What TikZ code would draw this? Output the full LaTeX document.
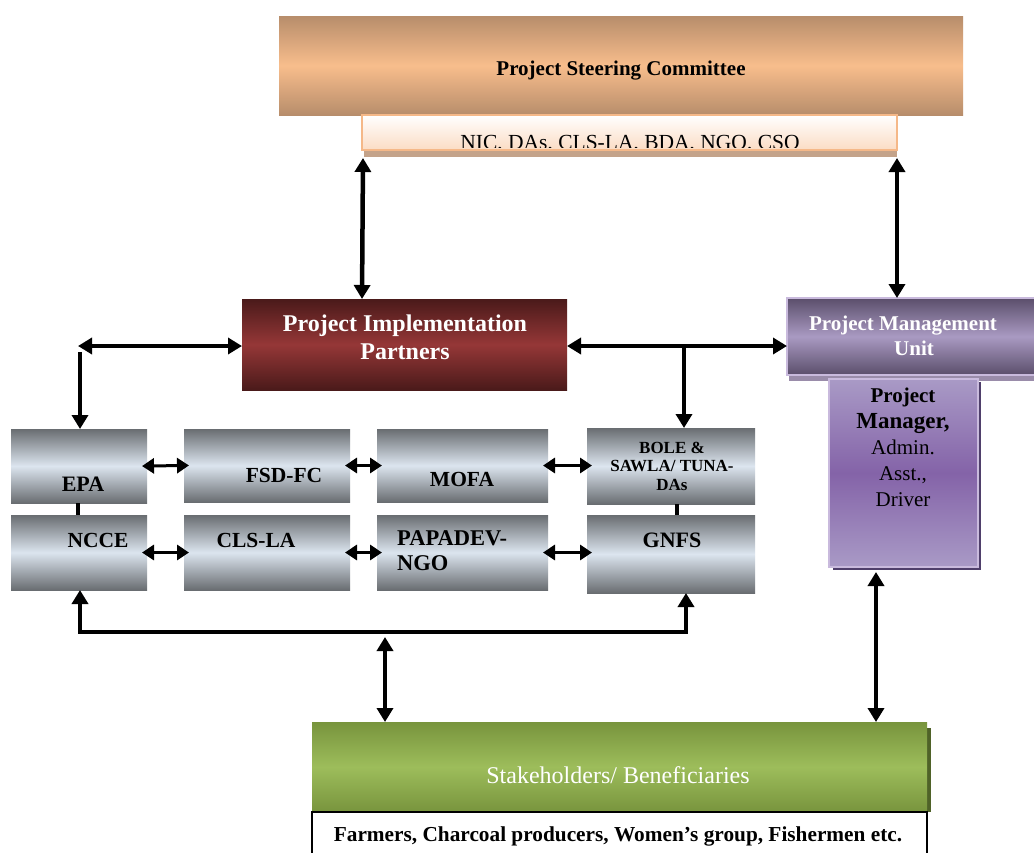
\documentclass[tikz,border=0pt]{standalone}
\usepackage{fontspec}
\setmainfont{Liberation Serif}
\usetikzlibrary{arrows.meta,calc}
\definecolor{gsteel}{HTML}{696D71}
\definecolor{lsteel}{HTML}{DCE5EF}
\definecolor{pscdark}{HTML}{B78D6B}
\definecolor{psclight}{HTML}{F8BD8C}
\definecolor{nicbot}{HTML}{FBDCC4}
\definecolor{nicline}{HTML}{F5B888}
\definecolor{nicstrip}{HTML}{C4A38A}
\definecolor{pipdark}{HTML}{4A1A1A}
\definecolor{piplight}{HTML}{953737}
\definecolor{pmudark}{HTML}{5B4E6B}
\definecolor{pmulight}{HTML}{A99AC2}
\definecolor{pmuline}{HTML}{C9BADD}
\definecolor{pmstrip}{HTML}{9A8CAA}
\definecolor{pmmid}{HTML}{8463A8}
\definecolor{pmlight}{HTML}{A99AC6}
\definecolor{pmshadow}{HTML}{4F3F6B}
\definecolor{gdark}{HTML}{78943D}
\definecolor{glight}{HTML}{9DBD5B}
\definecolor{gshadow}{HTML}{4F6228}
\begin{document}
\begin{tikzpicture}[x=1pt,y=-1pt,
  box/.style={anchor=north west, inner sep=0pt, outer sep=0pt},
  steel/.style={box, top color=gsteel, bottom color=gsteel, middle color=lsteel},
  lbl/.style={inner sep=0pt, font=\fontsize{21.5}{25}\selectfont\bfseries},
  big/.style={line width=4.5pt, {Triangle[length=14pt,width=16pt]}-{Triangle[length=14pt,width=16pt]}},
  bigend/.style={line width=4.5pt, -{Triangle[length=14pt,width=16pt]}},
  small/.style={line width=3pt, shorten <=-5pt, shorten >=-5pt, {Triangle[length=12pt,width=15pt]}-{Triangle[length=12pt,width=15pt]}},
  link/.style={line width=4.5pt}
]
\clip (0,0) rectangle (1034,852);
\fill[white] (0,0) rectangle (1034,852);

% Steering committee
\node[box, minimum width=684pt, minimum height=99pt, top color=pscdark, bottom color=pscdark, middle color=psclight] (psc) at (279,16) {};
\node[lbl, font=\fontsize{21}{25}\selectfont\bfseries] (psct) at (621,71) {Project Steering Committee};

% NIC strip
\fill[nicstrip] (364,150) rectangle (897,157);
\node[box, minimum width=535pt, minimum height=35pt, top color=white, bottom color=nicbot, draw=nicline, line width=2pt] (nic) at (362,115) {};
\begin{scope}
\clip (362,115) rectangle (897,147);
\node[inner sep=0pt, anchor=base, font=\fontsize{21.5}{25}\selectfont] (nict) at (630,149) {NIC, DAs, CLS-LA, BDA, NGO, CSO};
\end{scope}

% Implementation partners
\node[box, minimum width=325pt, minimum height=91pt, top color=pipdark, bottom color=pipdark, middle color=piplight] (pip) at (242,299) {};
\node[lbl, font=\fontsize{24}{28}\selectfont\bfseries, text=white, align=center] (pipt) at (405,337) {Project Implementation\\Partners};

% Management unit
\fill[pmstrip] (789,376) rectangle (1034,381);
\node[box, minimum width=260pt, minimum height=77pt, top color=pmudark, bottom color=pmudark, middle color=pmulight, draw=pmuline, line width=2pt] (pmu) at (787,298) {};
\node[lbl, font=\fontsize{21}{25}\selectfont\bfseries, text=white, align=center] (pmut) at (903,336) {Project Management\\\hspace*{22pt}Unit};

% Project manager
\fill[pmshadow] (833,382) rectangle (981,570);
\node[box, minimum width=149pt, minimum height=188pt, top color=pmlight, bottom color=pmlight, middle color=pmmid, draw=pmuline, line width=2pt] (pm) at (829,379) {};
\node[inner sep=0pt, align=center, font=\fontsize{21}{26}\selectfont, anchor=north] (pmt) at (903,388) {\textbf{Project}\\\textbf{\fontsize{23}{26}\selectfont Manager,}\\Admin.\\Asst.,\\Driver};

% Steel boxes row 1
\node[steel, minimum width=136pt, minimum height=74pt] (epa) at (11,429) {};
\node[steel, minimum width=166pt, minimum height=73pt] (fsd) at (184,429) {};
\node[steel, minimum width=171pt, minimum height=73pt] (mofa) at (377,429) {};
\node[steel, minimum width=168pt, minimum height=76pt] (bole) at (587,428) {};
% row 2
\node[steel, minimum width=136pt, minimum height=75pt] (ncce) at (11,515) {};
\node[steel, minimum width=166pt, minimum height=75pt] (cls) at (184,515) {};
\node[steel, minimum width=171pt, minimum height=75pt] (papa) at (377,515) {};
\node[steel, minimum width=168pt, minimum height=78pt] (gnfs) at (587,515) {};

\node[lbl, font=\fontsize{22}{25}\selectfont\bfseries] (epat) at (83,484) {EPA};
\node[lbl] (fsdt) at (284,475) {FSD-FC};
\node[lbl] (mofat) at (462,479) {MOFA};
\node[lbl, font=\fontsize{17}{18.5}\selectfont\bfseries, align=center] (bolet) at (672,466) {BOLE \&\\SAWLA/ TUNA-\\DAs};
\node[lbl] (nccet) at (98,540) {NCCE};
\node[lbl] (clst) at (256,540) {CLS-LA};
\node[lbl, font=\fontsize{22.5}{25}\selectfont\bfseries, align=left, anchor=west] (papat) at (397,551) {PAPADEV-\\NGO};
\node[lbl, font=\fontsize{22}{25}\selectfont\bfseries] (gnfst) at (672,540) {GNFS};

% Stakeholders
\fill[gshadow] (927,728) rectangle (931,812);
\node[box, minimum width=615pt, minimum height=90pt, top color=gdark, bottom color=gdark, middle color=glight] (stake) at (312,722) {};
\node[inner sep=0pt, text=white, font=\fontsize{24}{28}\selectfont] (staket) at (618,775) {Stakeholders/ Beneficiaries};
\node[box, minimum width=615pt, minimum height=44pt, draw=black, line width=1.5pt, fill=white] (farm) at (312,812) {};
\node[lbl, font=\fontsize{21.3}{25}\selectfont\bfseries] (farmt) at (618,836) {Farmers, Charcoal producers, Women’s group, Fishermen etc.};

% Connectors
\coordinate (nicl) at (nic.south west);
\coordinate (nicr) at (nic.south east);
\draw[big] ($(nicl)+(1,8)$) -- (nicl |- pip.north);
\draw[big] ($(nicr)+(0,8)$) -- (nicr |- pmu.north);

\coordinate (lt) at (78,346);
\coordinate (ltv) at (80,352);
\draw[big] (pip.west |- lt) -- (lt);
\draw[bigend] (ltv) -- (ltv |- epa.north);

\coordinate (br) at (684,346);
\draw[big] (pip.east |- br) -- (pmu.west |- br);
\draw[bigend] (br) -- (br |- bole.north);

\draw[small] (epa.east) -- (fsd.west);
\draw[small] (fsd.east) -- (mofa.west);
\draw[small] (mofa.east) -- (mofa.east -| bole.west);
\draw[small] (ncce.east) -- (cls.west);
\draw[small] (cls.east) -- (papa.west);
\draw[small] (papa.east) -- (papa.east -| gnfs.west);

\draw[link] (78,503) -- (78,515);
\draw[link] (677,504) -- (677,515);

\coordinate (busl) at (80,632);
\coordinate (busr) at (686,632);
\draw[line width=4.5pt, {Triangle[length=14pt,width=16pt]}-{Triangle[length=14pt,width=16pt]}, line join=miter] (busl |- ncce.south) -- (busl) -- (busr) -- (busr |- gnfs.south);
\coordinate (bv) at (385,637);
\draw[big] (bv) -- (bv |- stake.north);
\coordinate (pv) at (876,572);
\draw[big] (pv) -- (pv |- stake.north);
\end{tikzpicture}
\end{document}
